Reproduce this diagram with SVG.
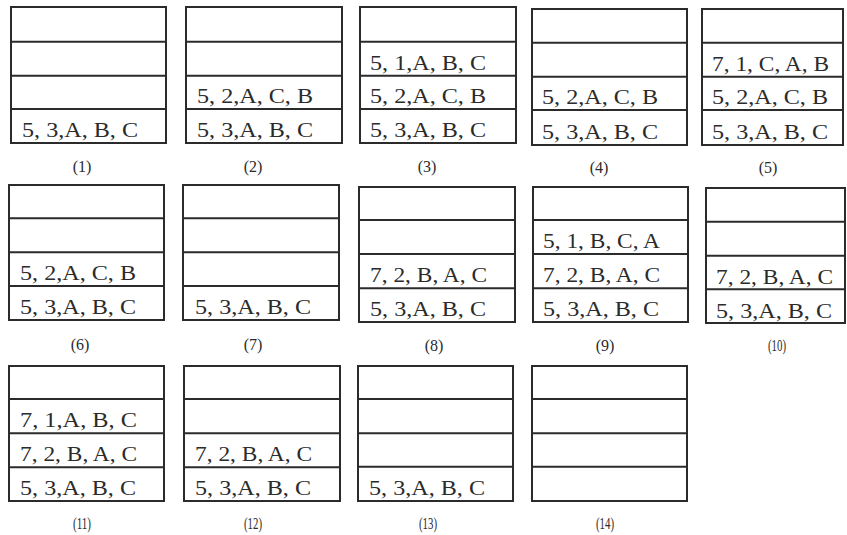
<svg xmlns="http://www.w3.org/2000/svg" width="847" height="535" viewBox="0 0 847 535">
<style>
.box{fill:none;stroke:#2b2b2b;stroke-width:2}
.div{stroke:#2b2b2b;stroke-width:2}
.t{font-family:"Liberation Serif","Times New Roman",serif;font-size:20px;fill:#2b2b2b}
.lb{font-family:"Liberation Serif","Times New Roman",serif;font-size:16px;fill:#2b2b2b;text-anchor:middle}
</style>
<rect width="847" height="535" fill="#ffffff"/>
<g id="s1">
<rect class="box" x="11" y="7" width="155" height="136"/>
<line class="div" x1="11" y1="41.7" x2="166" y2="41.7"/><line class="div" x1="11" y1="75.7" x2="166" y2="75.7"/><line class="div" x1="11" y1="109" x2="166" y2="109"/>
<text class="t" x="22" y="137" textLength="116" lengthAdjust="spacingAndGlyphs">5, 3,A, B, C</text>
<text class="lb" x="82" y="172">(1)</text>
</g>
<g id="s2">
<rect class="box" x="186" y="7" width="156" height="136"/>
<line class="div" x1="186" y1="41.7" x2="342" y2="41.7"/><line class="div" x1="186" y1="75.7" x2="342" y2="75.7"/><line class="div" x1="186" y1="109" x2="342" y2="109"/>
<text class="t" x="197" y="103" textLength="116" lengthAdjust="spacingAndGlyphs">5, 2,A, C, B</text>
<text class="t" x="197" y="137" textLength="116" lengthAdjust="spacingAndGlyphs">5, 3,A, B, C</text>
<text class="lb" x="253" y="172">(2)</text>
</g>
<g id="s3">
<rect class="box" x="360" y="7" width="156" height="136"/>
<line class="div" x1="360" y1="41.7" x2="516" y2="41.7"/><line class="div" x1="360" y1="75.7" x2="516" y2="75.7"/><line class="div" x1="360" y1="109" x2="516" y2="109"/>
<text class="t" x="370" y="69.5" textLength="116" lengthAdjust="spacingAndGlyphs">5, 1,A, B, C</text>
<text class="t" x="370" y="103" textLength="116" lengthAdjust="spacingAndGlyphs">5, 2,A, C, B</text>
<text class="t" x="370" y="137" textLength="116" lengthAdjust="spacingAndGlyphs">5, 3,A, B, C</text>
<text class="lb" x="427" y="172">(3)</text>
</g>
<g id="s4">
<rect class="box" x="532" y="9" width="155" height="136"/>
<line class="div" x1="532" y1="42.7" x2="687" y2="42.7"/><line class="div" x1="532" y1="76.7" x2="687" y2="76.7"/><line class="div" x1="532" y1="110" x2="687" y2="110"/>
<text class="t" x="542" y="104" textLength="116" lengthAdjust="spacingAndGlyphs">5, 2,A, C, B</text>
<text class="t" x="542" y="139" textLength="116" lengthAdjust="spacingAndGlyphs">5, 3,A, B, C</text>
<text class="lb" x="599" y="173">(4)</text>
</g>
<g id="s5">
<rect class="box" x="702" y="9" width="141" height="136"/>
<line class="div" x1="702" y1="42.7" x2="843" y2="42.7"/><line class="div" x1="702" y1="76.7" x2="843" y2="76.7"/><line class="div" x1="702" y1="110" x2="843" y2="110"/>
<text class="t" x="712" y="70.5" textLength="117" lengthAdjust="spacingAndGlyphs">7, 1, C, A, B</text>
<text class="t" x="712" y="104" textLength="116" lengthAdjust="spacingAndGlyphs">5, 2,A, C, B</text>
<text class="t" x="712" y="139" textLength="116" lengthAdjust="spacingAndGlyphs">5, 3,A, B, C</text>
<text class="lb" x="768" y="173">(5)</text>
</g>
<g id="s6">
<rect class="box" x="9" y="185" width="155" height="135"/>
<line class="div" x1="9" y1="218.3" x2="164" y2="218.3"/><line class="div" x1="9" y1="252.3" x2="164" y2="252.3"/><line class="div" x1="9" y1="286" x2="164" y2="286"/>
<text class="t" x="20" y="280" textLength="116" lengthAdjust="spacingAndGlyphs">5, 2,A, C, B</text>
<text class="t" x="20" y="314" textLength="116" lengthAdjust="spacingAndGlyphs">5, 3,A, B, C</text>
<text class="lb" x="80" y="350">(6)</text>
</g>
<g id="s7">
<rect class="box" x="183" y="185" width="156" height="135"/>
<line class="div" x1="183" y1="218.3" x2="339" y2="218.3"/><line class="div" x1="183" y1="252.3" x2="339" y2="252.3"/><line class="div" x1="183" y1="286" x2="339" y2="286"/>
<text class="t" x="195" y="314" textLength="116" lengthAdjust="spacingAndGlyphs">5, 3,A, B, C</text>
<text class="lb" x="253" y="350">(7)</text>
</g>
<g id="s8">
<rect class="box" x="359" y="187" width="156" height="135"/>
<line class="div" x1="359" y1="220" x2="515" y2="220"/><line class="div" x1="359" y1="254" x2="515" y2="254"/><line class="div" x1="359" y1="288.3" x2="515" y2="288.3"/>
<text class="t" x="370" y="282" textLength="117" lengthAdjust="spacingAndGlyphs">7, 2, B, A, C</text>
<text class="t" x="370" y="316" textLength="116" lengthAdjust="spacingAndGlyphs">5, 3,A, B, C</text>
<text class="lb" x="434" y="351">(8)</text>
</g>
<g id="s9">
<rect class="box" x="533" y="187" width="155" height="135"/>
<line class="div" x1="533" y1="220" x2="688" y2="220"/><line class="div" x1="533" y1="254" x2="688" y2="254"/><line class="div" x1="533" y1="288.3" x2="688" y2="288.3"/>
<text class="t" x="543" y="248" textLength="117" lengthAdjust="spacingAndGlyphs">5, 1, B, C, A</text>
<text class="t" x="543" y="282" textLength="117" lengthAdjust="spacingAndGlyphs">7, 2, B, A, C</text>
<text class="t" x="543" y="316" textLength="116" lengthAdjust="spacingAndGlyphs">5, 3,A, B, C</text>
<text class="lb" x="605" y="351">(9)</text>
</g>
<g id="s10">
<rect class="box" x="706" y="188" width="139" height="135"/>
<line class="div" x1="706" y1="221.7" x2="845" y2="221.7"/><line class="div" x1="706" y1="255.7" x2="845" y2="255.7"/><line class="div" x1="706" y1="289.3" x2="845" y2="289.3"/>
<text class="t" x="716" y="283.5" textLength="117" lengthAdjust="spacingAndGlyphs">7, 2, B, A, C</text>
<text class="t" x="716" y="317.5" textLength="116" lengthAdjust="spacingAndGlyphs">5, 3,A, B, C</text>
<text class="lb" x="777" y="351" textLength="18" lengthAdjust="spacingAndGlyphs">(10)</text>
</g>
<g id="s11">
<rect class="box" x="9" y="366" width="155" height="135"/>
<line class="div" x1="9" y1="399" x2="164" y2="399"/><line class="div" x1="9" y1="433.3" x2="164" y2="433.3"/><line class="div" x1="9" y1="467.3" x2="164" y2="467.3"/>
<text class="t" x="20" y="427" textLength="117" lengthAdjust="spacingAndGlyphs">7, 1,A, B, C</text>
<text class="t" x="20" y="461" textLength="117" lengthAdjust="spacingAndGlyphs">7, 2, B, A, C</text>
<text class="t" x="20" y="495" textLength="116" lengthAdjust="spacingAndGlyphs">5, 3,A, B, C</text>
<text class="lb" x="82" y="529" textLength="18" lengthAdjust="spacingAndGlyphs">(11)</text>
</g>
<g id="s12">
<rect class="box" x="184" y="366" width="156" height="135"/>
<line class="div" x1="184" y1="399" x2="340" y2="399"/><line class="div" x1="184" y1="433.3" x2="340" y2="433.3"/><line class="div" x1="184" y1="467.3" x2="340" y2="467.3"/>
<text class="t" x="195" y="461" textLength="117" lengthAdjust="spacingAndGlyphs">7, 2, B, A, C</text>
<text class="t" x="195" y="495" textLength="116" lengthAdjust="spacingAndGlyphs">5, 3,A, B, C</text>
<text class="lb" x="253" y="529" textLength="18" lengthAdjust="spacingAndGlyphs">(12)</text>
</g>
<g id="s13">
<rect class="box" x="358" y="366" width="155" height="135"/>
<line class="div" x1="358" y1="399" x2="513" y2="399"/><line class="div" x1="358" y1="433.3" x2="513" y2="433.3"/><line class="div" x1="358" y1="466.7" x2="513" y2="466.7"/>
<text class="t" x="369" y="495" textLength="116" lengthAdjust="spacingAndGlyphs">5, 3,A, B, C</text>
<text class="lb" x="428" y="529" textLength="18" lengthAdjust="spacingAndGlyphs">(13)</text>
</g>
<g id="s14">
<rect class="box" x="532" y="366" width="155" height="135"/>
<line class="div" x1="532" y1="399" x2="687" y2="399"/><line class="div" x1="532" y1="433.3" x2="687" y2="433.3"/><line class="div" x1="532" y1="466.7" x2="687" y2="466.7"/>
<text class="lb" x="605" y="529" textLength="18" lengthAdjust="spacingAndGlyphs">(14)</text>
</g>
<g id="connectors"/>
</svg>
